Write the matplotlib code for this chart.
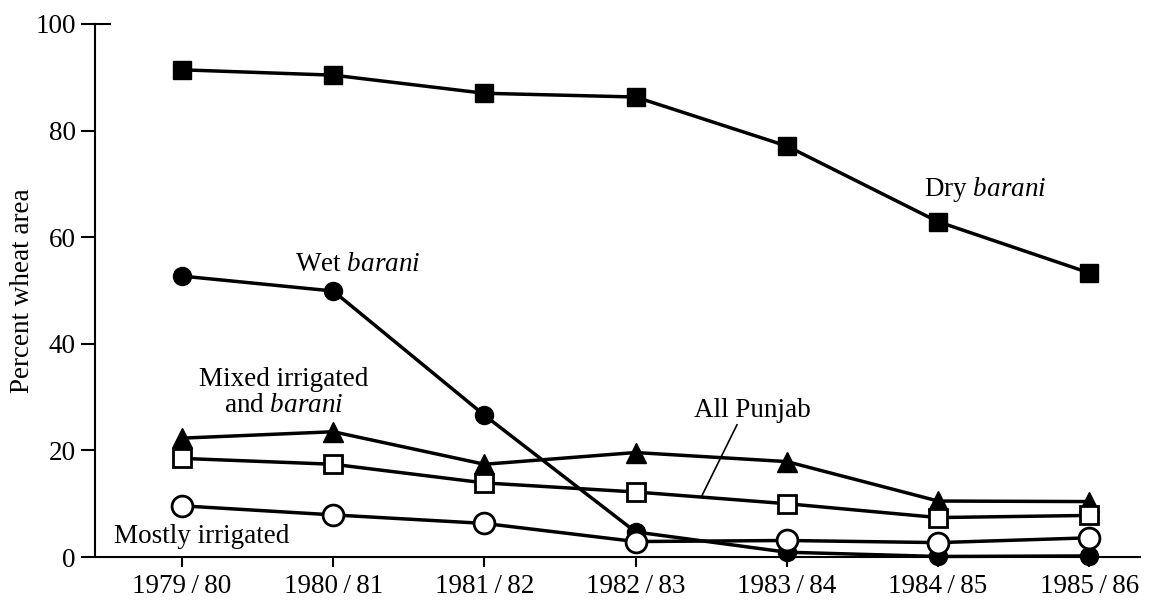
import matplotlib.pyplot as plt

plt.rcParams['font.family'] = ['Liberation Serif', 'DejaVu Serif']
plt.rcParams['mathtext.fontset'] = 'custom'
plt.rcParams['mathtext.rm'] = 'Liberation Serif'
plt.rcParams['mathtext.it'] = 'Liberation Serif:italic'

# ---------- data ----------
years = ['1979\u2009/\u200980', '1980\u2009/\u200981', '1981\u2009/\u200982', '1982\u2009/\u200983',
         '1983\u2009/\u200984', '1984\u2009/\u200985', '1985\u2009/\u200986']
dry_barani = [91.4, 90.4, 87.0, 86.3, 77.1, 62.9, 53.3]
wet_barani = [52.7, 49.9, 26.6, 4.7, 0.9, 0.1, 0.2]
mixed = [22.3, 23.5, 17.4, 19.6, 17.9, 10.5, 10.4]
all_punjab = [18.5, 17.4, 13.9, 12.2, 10.0, 7.4, 7.8]
mostly_irrigated = [9.6, 7.9, 6.3, 2.9, 3.1, 2.7, 3.6]

x = list(range(len(years)))

fig = plt.figure(figsize=(11.55, 6.01), dpi=100)
ax = fig.add_axes([0.0823, 0.0732, 0.9048, 0.8869])

lw = 2.5
ax.plot(x, mixed, color='black', lw=lw, marker='^', ms=15, mfc='black', mec='black', zorder=3, clip_on=False)
ax.plot(x, dry_barani, color='black', lw=lw, marker='s', ms=13, mfc='black', mec='black', zorder=3, clip_on=False)
ax.plot(x, wet_barani, color='black', lw=lw, marker='o', ms=13, mfc='black', mec='black', zorder=3, clip_on=False)
ax.plot(x, all_punjab, color='black', lw=lw, marker='s', ms=13, mfc='white', mec='black', mew=2, zorder=4, clip_on=False)
ax.plot(x, mostly_irrigated, color='black', lw=lw, marker='o', ms=15, mfc='white', mec='black', mew=2, zorder=4, clip_on=False)

# ---------- labels ----------
fs = 19.5
ax.text(4.91, 68.9, r'Dry $\mathit{barani}$', fontsize=fs, va='center', ha='left')
ax.text(0.75, 54.8, r'Wet $\mathit{barani}$', fontsize=fs, va='center', ha='left')
ax.text(0.67, 30.9, 'Mixed irrigated\nand $\\mathit{barani}$', fontsize=fs, va='center',
        ha='center', multialignment='center', linespacing=1.05)
ax.text(3.77, 27.4, 'All Punjab', fontsize=fs, va='center', ha='center')
ax.plot([3.67, 3.44], [24.8, 11.6], color='black', lw=1.2, zorder=5)
ax.text(-0.45, 3.9, 'Mostly irrigated', fontsize=fs, va='center', ha='left')

# ---------- axes ----------
ax.set_xlim(-0.575, 6.336)
ax.set_ylim(0, 100)
ax.set_xticks(x)
ax.set_xticklabels(years, fontsize=fs)
ax.set_yticks([0, 20, 40, 60, 80, 100])
ax.tick_params(axis='y', labelsize=fs, length=10, width=1.5, direction='out', pad=4)
ax.tick_params(axis='x', length=7, width=1.5, direction='out', pad=5)
ax.set_ylabel('Percent wheat area', fontsize=fs, labelpad=0)
# small stub at the top of the y axis
ax.plot([-0.575, -0.475], [100, 100], color='black', lw=1.5, clip_on=False)

for s in ['top', 'right']:
    ax.spines[s].set_visible(False)
for s in ['left', 'bottom']:
    ax.spines[s].set_linewidth(1.5)

fig.savefig('out.png', dpi=100)
